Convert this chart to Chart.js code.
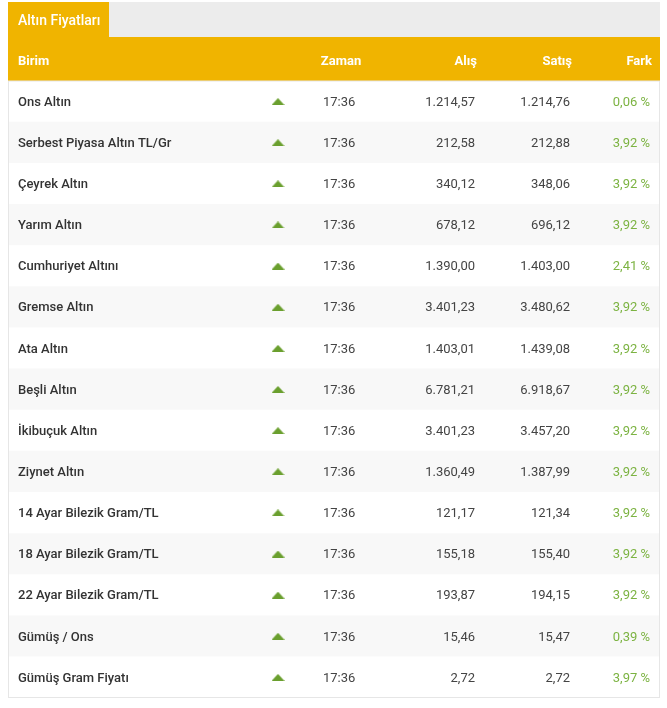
<!DOCTYPE html>
<html>
<head>
<meta charset="utf-8">
<script src="https://cdn.jsdelivr.net/npm/chart.js@4.4.1/dist/chart.umd.min.js"></script>
<style>
  html, body { margin: 0; padding: 0; background: #fff; }
  #wrap { width: 667px; height: 708px; }
</style>
</head>
<body>
<div id="wrap"><canvas id="goldTable" width="667" height="708"></canvas></div>
<script>
    // tablo verileri
    const birimler = ['Ons Altın', 'Serbest Piyasa Altın TL/Gr', 'Çeyrek Altın', 'Yarım Altın', 'Cumhuriyet Altını',
        'Gremse Altın', 'Ata Altın', 'Beşli Altın', 'İkibuçuk Altın', 'Ziynet Altın', '14 Ayar Bilezik Gram/TL',
        '18 Ayar Bilezik Gram/TL', '22 Ayar Bilezik Gram/TL', 'Gümüş / Ons', 'Gümüş Gram Fiyatı'];
    const zamanlar = Array(15).fill('17:36');
    const alis = [1214.57, 212.58, 340.12, 678.12, 1390.00, 3401.23, 1403.01, 6781.21, 3401.23, 1360.49, 121.17, 155.18, 193.87, 15.46, 2.72];
    const satis = [1214.76, 212.88, 348.06, 696.12, 1403.00, 3480.62, 1439.08, 6918.67, 3457.20, 1387.99, 121.34, 155.40, 194.15, 15.47, 2.72];
    const fark = [0.06, 3.92, 3.92, 3.92, 2.41, 3.92, 3.92, 3.92, 3.92, 3.92, 3.92, 3.92, 3.92, 0.39, 3.97];
    const basliklar = ['Birim', 'Zaman', 'Alış', 'Satış', 'Fark'];
    const sekmeBasligi = 'Altın Fiyatları';

    const ORANGE = '#f0b400';
    const GREEN = '#7cb342';
    const FONT = 'Roboto, "Noto Sans", sans-serif';

    // sayı biçimi: 1.214,57
    function trFormat(v) {
        const [tam, kesir] = v.toFixed(2).split('.');
        return tam.replace(/\B(?=(\d{3})+(?!\d))/g, '.') + ',' + kesir;
    }

    // yassı üçgen (yükseliş işareti)
    const tri = document.createElement('canvas');
    tri.width = 13; tri.height = 7;
    const tctx = tri.getContext('2d');
    tctx.fillStyle = '#6a9f2e';
    tctx.beginPath();
    tctx.moveTo(0, 7); tctx.lineTo(6.5, 0); tctx.lineTo(13, 7); tctx.closePath();
    tctx.fill();

    const ARROW_X = 270; // sütun konumu (x ekseni 0..652 px)

    const tablePlugin = {
        id: 'tablePlugin',
        beforeDraw(chart) {
            const { ctx, chartArea } = chart;
            const L = chartArea.left, R = chartArea.right;
            ctx.save();
            // sekme ve gri şerit
            ctx.fillStyle = '#ececec';
            ctx.fillRect(L, 2, R - L, 35);
            ctx.fillStyle = ORANGE;
            ctx.fillRect(L, 2, 101, 36);
            ctx.fillRect(L, 37, R - L, 44);
            ctx.fillStyle = '#fff';
            ctx.font = '500 14px ' + FONT;
            ctx.textBaseline = 'middle';
            ctx.textAlign = 'left';
            ctx.fillText(sekmeBasligi, 18, 21);
            // başlık satırı
            ctx.font = 'bold 13px ' + FONT;
            const hy = 61.5;
            ctx.textAlign = 'left';
            ctx.fillText(basliklar[0], 18, hy);
            ctx.textAlign = 'center';
            ctx.fillText(basliklar[1], 341, hy);
            ctx.textAlign = 'right';
            ctx.fillText(basliklar[2], 477, hy);
            ctx.fillText(basliklar[3], 572, hy);
            ctx.fillText(basliklar[4], 652, hy);
            ctx.restore();
        },
        afterDatasetsDraw(chart) {
            const { ctx, chartArea, scales } = chart;
            ctx.save();
            // dış çerçeve
            ctx.strokeStyle = '#e6e6e6';
            ctx.lineWidth = 1;
            ctx.strokeRect(chartArea.left + 0.5, chartArea.top, chartArea.right - chartArea.left - 1, chartArea.bottom - chartArea.top - 0.5);
            ctx.textBaseline = 'middle';
            birimler.forEach((b, i) => {
                const y = scales.y.getPixelForValue(i) + 1;
                ctx.fillStyle = '#333';
                ctx.font = '500 13px ' + FONT;
                ctx.textAlign = 'left';
                ctx.fillText(b, 18, y);
                ctx.font = '13px ' + FONT;
                ctx.fillStyle = '#444';
                ctx.fillText(zamanlar[i], 323, y);
                ctx.textAlign = 'right';
                ctx.fillText(trFormat(alis[i]), 475, y);
                ctx.fillText(trFormat(satis[i]), 570, y);
                ctx.fillStyle = GREEN;
                ctx.fillText(trFormat(fark[i]) + ' %', 650, y);
            });
            ctx.restore();
        }
    };

    const config = {
        type: 'bar',
        data: {
            labels: birimler,
            datasets: [
                {
                    type: 'line',
                    data: birimler.map((b, i) => ({ x: ARROW_X, y: b })),
                    showLine: false,
                    pointStyle: tri,
                    pointRadius: 6,
                    order: 0
                },
                {
                    data: birimler.map(() => [0, 652]),
                    backgroundColor: birimler.map((b, i) => i % 2 === 0 ? '#ffffff' : '#f8f8f8'),
                    barPercentage: 1,
                    categoryPercentage: 1,
                    borderWidth: 0,
                    order: 1
                }
            ]
        },
        options: {
            indexAxis: 'y',
            responsive: false,
            animation: false,
            layout: { padding: { left: 8, right: 7, top: 81, bottom: 10 } },
            scales: {
                x: { type: 'linear', min: 0, max: 652, display: false },
                y: { type: 'category', display: false, offset: true }
            },
            plugins: { legend: { display: false }, tooltip: { enabled: false } }
        },
        plugins: [tablePlugin]
    };

    new Chart(document.getElementById('goldTable'), config);
</script>
</body>
</html>
